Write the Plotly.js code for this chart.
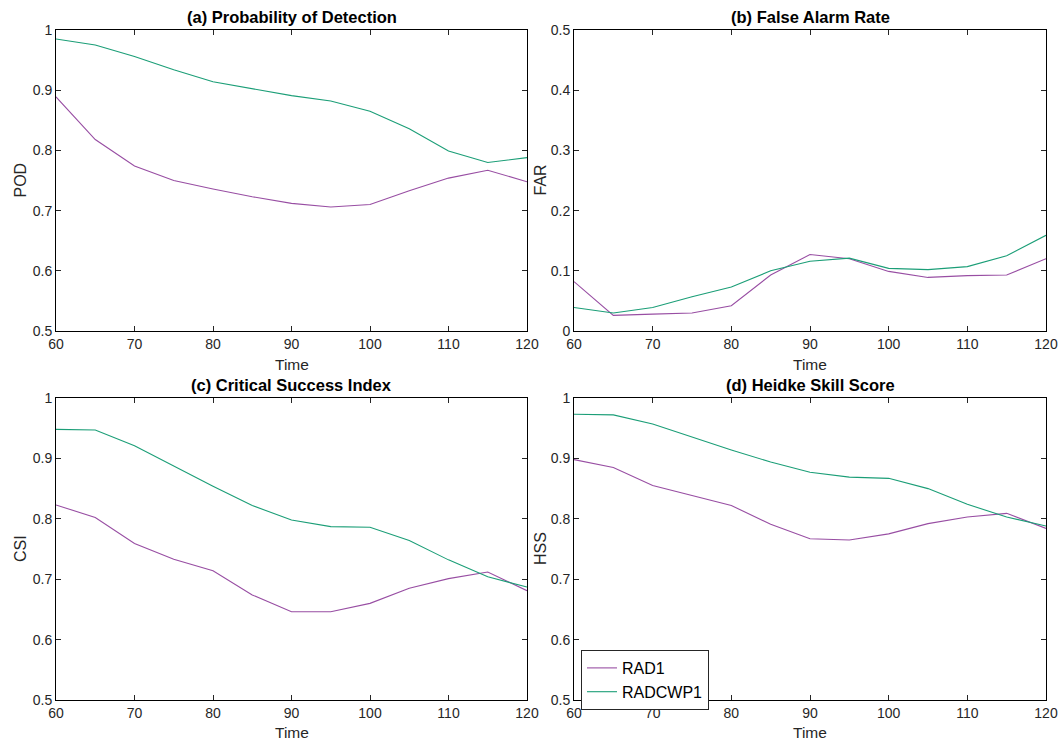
<!DOCTYPE html>
<html>
<head>
<meta charset="utf-8">
<script src="https://cdn.plot.ly/plotly-3.0.1.min.js"></script>
<style>html,body{margin:0;padding:0;background:#fff;}#chart{width:1062px;height:740px;}</style>
</head>
<body>
<div id="chart"></div>
<script>
const time = [60, 65, 70, 75, 80, 85, 90, 95, 100, 105, 110, 115, 120];

const podRAD1    = [0.889, 0.818, 0.774, 0.750, 0.736, 0.723, 0.712, 0.706, 0.710, 0.733, 0.754, 0.767, 0.748];
const podRADCWP1 = [0.985, 0.975, 0.956, 0.934, 0.914, 0.903, 0.891, 0.882, 0.865, 0.836, 0.799, 0.780, 0.788];

const farRAD1    = [0.082, 0.026, 0.028, 0.030, 0.042, 0.093, 0.127, 0.120, 0.099, 0.089, 0.092, 0.093, 0.120];
const farRADCWP1 = [0.039, 0.030, 0.039, 0.057, 0.073, 0.100, 0.116, 0.121, 0.104, 0.102, 0.107, 0.125, 0.159];

const csiRAD1    = [0.823, 0.802, 0.759, 0.733, 0.714, 0.674, 0.646, 0.646, 0.660, 0.685, 0.701, 0.712, 0.681];
const csiRADCWP1 = [0.948, 0.947, 0.921, 0.887, 0.854, 0.822, 0.798, 0.787, 0.786, 0.764, 0.732, 0.704, 0.687];

const hssRAD1    = [0.898, 0.885, 0.855, 0.838, 0.822, 0.791, 0.767, 0.765, 0.775, 0.792, 0.803, 0.809, 0.784];
const hssRADCWP1 = [0.973, 0.972, 0.957, 0.935, 0.914, 0.894, 0.877, 0.869, 0.867, 0.850, 0.824, 0.803, 0.788];

const panelTitles = ['(a) Probability of Detection', '(b) False Alarm Rate', '(c) Critical Success Index', '(d) Heidke Skill Score'];
const yTitles = ['POD', 'FAR', 'CSI', 'HSS'];
const xTitle = 'Time';
const seriesNames = ['RAD1', 'RADCWP1'];
const xTicks = [60, 70, 80, 90, 100, 110, 120];
const yTicksHigh = [0.5, 0.6, 0.7, 0.8, 0.9, 1];
const yTicksFar = [0, 0.1, 0.2, 0.3, 0.4, 0.5];

const colRAD1 = '#984ea3';
const colRADCWP1 = '#1b9e77';

const panels = [
  [podRAD1, podRADCWP1],
  [farRAD1, farRADCWP1],
  [csiRAD1, csiRADCWP1],
  [hssRAD1, hssRADCWP1]
];

const traces = [];
panels.forEach((p, i) => {
  const ax = i === 0 ? '' : String(i + 1);
  traces.push({x: time, y: p[0], type: 'scatter', mode: 'lines', name: seriesNames[0],
    line: {color: colRAD1, width: 1.1}, xaxis: 'x' + ax, yaxis: 'y' + ax, showlegend: i === 3});
  traces.push({x: time, y: p[1], type: 'scatter', mode: 'lines', name: seriesNames[1],
    line: {color: colRADCWP1, width: 1.1}, xaxis: 'x' + ax, yaxis: 'y' + ax, showlegend: i === 3});
});

const W = 1062, H = 740;
const xDom = [[56 / W, 527 / W], [574 / W, 1046 / W]];
const yDom = [[1 - 331 / H, 1 - 30 / H], [1 - 700 / H, 1 - 398 / H]];
const fam = 'Liberation Sans, Arial, sans-serif';
const txt = '#262626';

const layout = {
  width: W, height: H,
  margin: {l: 0, r: 0, t: 0, b: 0},
  paper_bgcolor: '#fff', plot_bgcolor: '#fff',
  font: {family: fam, size: 14, color: txt},
  showlegend: true,
  legend: {x: 581 / W, y: 1 - 650 / H, xanchor: 'left', yanchor: 'top',
    bordercolor: '#262626', borderwidth: 1, bgcolor: '#fff',
    font: {family: fam, size: 16, color: '#000'}, tracegroupgap: 0, itemwidth: 30},
  annotations: []
};

const yTitleX = [20, 540];
const xTitleY = [364, 732];

for (let i = 0; i < 4; i++) {
  const col = i % 2, row = Math.floor(i / 2);
  const ax = i === 0 ? '' : String(i + 1);
  layout['xaxis' + ax] = {
    domain: xDom[col], anchor: 'y' + ax, range: [60, 120],
    tickvals: xTicks, ticks: 'inside', ticklen: 5, tickcolor: '#262626',
    showline: true, linecolor: '#000', linewidth: 1, mirror: 'ticks',
    showgrid: false, zeroline: false,
    tickfont: {family: fam, size: 14, color: txt}
  };
  const far = i === 1;
  layout['yaxis' + ax] = {
    domain: yDom[row], anchor: 'x' + ax, range: far ? [0, 0.5] : [0.5, 1],
    tickvals: far ? yTicksFar : yTicksHigh, ticks: 'inside', ticklen: 5, tickcolor: '#262626',
    showline: true, linecolor: '#000', linewidth: 1, mirror: 'ticks',
    showgrid: false, zeroline: false,
    tickfont: {family: fam, size: 14, color: txt}
  };
  layout.annotations.push({
    text: '<b>' + panelTitles[i] + '</b>', showarrow: false,
    xref: 'paper', yref: 'paper',
    x: (xDom[col][0] + xDom[col][1]) / 2, y: yDom[row][1],
    xanchor: 'center', yanchor: 'bottom', yshift: 2,
    font: {family: fam, size: 16.5, color: '#000'}
  });
  layout.annotations.push({
    text: yTitles[i], showarrow: false, textangle: -90,
    xref: 'paper', yref: 'paper',
    x: yTitleX[col] / W, y: (yDom[row][0] + yDom[row][1]) / 2,
    xanchor: 'center', yanchor: 'middle',
    font: {family: fam, size: 16, color: txt}
  });
  layout.annotations.push({
    text: xTitle, showarrow: false,
    xref: 'paper', yref: 'paper',
    x: (xDom[col][0] + xDom[col][1]) / 2, y: 1 - xTitleY[row] / H,
    xanchor: 'center', yanchor: 'middle',
    font: {family: fam, size: 15.5, color: txt}
  });
}

Plotly.newPlot('chart', traces, layout, {displayModeBar: false, staticPlot: true});
</script>
</body>
</html>
